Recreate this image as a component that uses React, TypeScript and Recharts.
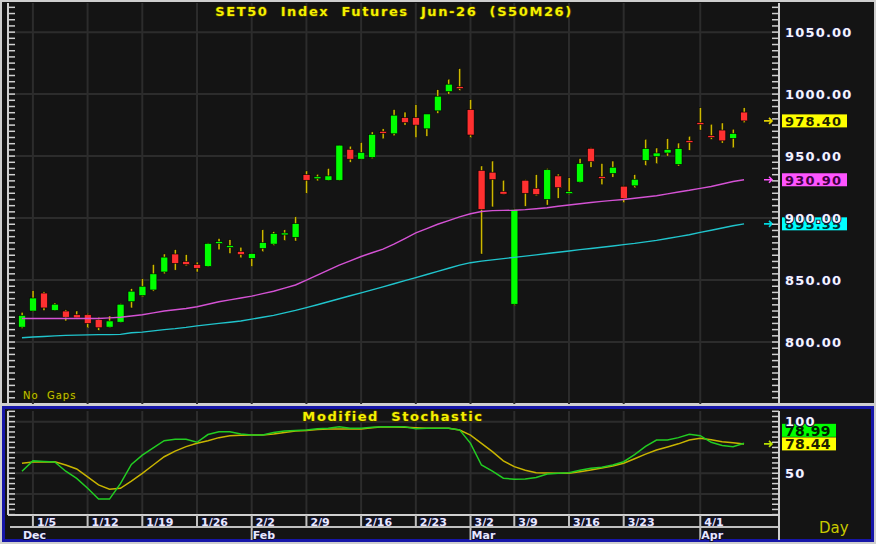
import React from 'react';
import { ComposedChart, Bar, Line, XAxis, YAxis, ReferenceLine, CartesianGrid } from 'recharts';

const dates = ['12/30','1/5','1/6','1/7','1/8','1/9','1/12','1/13','1/14','1/15','1/16','1/19','1/20','1/21','1/22','1/23','1/26','1/27','1/28','1/29','1/30','2/2','2/3','2/4','2/5','2/6','2/9','2/10','2/11','2/12','2/13','2/16','2/17','2/18','2/19','2/20','2/23','2/24','2/25','2/26','2/27','3/2','3/4','3/5','3/6','3/9','3/10','3/11','3/12','3/13','3/16','3/17','3/18','3/19','3/20','3/23','3/24','3/25','3/26','3/27','3/30','3/31','4/1','4/2','4/3','4/7','4/8'];

const opens = [812,825,839.5,825.5,825,822,822,818,812,816,832.5,837.5,842,856.5,871,865,862.5,861,880.2,877,873,867.5,875.5,879,887,884.5,935,932.5,930.5,930.5,955.5,947.5,949,970,968,981,981,972,986.5,1002,1006,987.5,938.5,937,921.5,830.5,930.5,924,915,934,920.5,929,956.3,933.5,936,925.7,926,946.5,949.5,952.5,943.3,962.5,977,966.5,971,964.3,985.5];
const highs = [824,841.5,840.5,831.5,826,825,823,820,821,831,843,851,862.5,871,874.5,870.5,864.5,880,883.5,882.5,876.5,871.8,890.5,889,890.5,901,938,935.3,940,959,958,961,969.5,972,987.5,985.5,991.5,984,1003.5,1012,1020.5,995.5,942,946,930.5,907.5,931,935,940,935.5,932.5,948,956.8,944,946,926.2,935,963.5,956.5,964,960.5,966,989,975.7,976.7,971.7,989];
const lows = [811,824.5,825.5,825,817,818.5,811.5,809.5,811.5,815.5,827.5,836.5,841,855,858,861.5,856.5,860.5,874.5,871.5,868,861,873,878,882,881.5,920,930,930,930,945,947,948,964,966.5,975,965,966,984.5,1000,1003,965,871,909,919,829.5,909.5,918,910.5,916,919,928.5,941,927,933,912.5,924.5,942.5,944,950,942,954.7,971,963.5,960.5,956.7,977];
const closes = [821.5,835.5,827.5,830.5,820,819.5,815,811.5,817,830.5,841,845,855,868.5,863.5,862.5,859.5,879.5,881,877.8,870.5,871.3,880.2,887.5,888,895.5,930.5,933.3,934,958.8,947.5,953,967.5,968.5,983,977,975,984,998.3,1008,1004.5,967,907,931,919.3,907,920,919,939,924.5,921.3,944,945.5,932.5,941,915.7,931.3,956,952.5,955.3,956,961.6,976.3,965.7,962.3,968.2,978.4];

const maFast = [819,819,819,819,819,819,819,819,819.5,820,821,822,823.5,825,826,827,828.5,830.5,832.5,834,835.5,837,839,841,843.5,846,850,854,858,862,865.5,869,872,875,879,883.5,888,891.5,895,898,901,903.5,905.3,906,906.2,906.3,906.8,907.5,908.3,909.5,910.5,911.5,912.5,913.5,914.3,915,916,917,918,919.5,921,922.4,924,925.5,927.5,929.5,930.9];
const maSlow = [803.5,804,804.5,805,805.4,805.6,805.8,806,806,806.2,807.5,808,809,810,810.8,811.8,813,814,815,816,817,818.5,820,821.5,823.5,825.5,827.8,830.1,832.5,834.9,837.3,839.7,842.1,844.5,847,849.5,852,854.5,857,859.5,862,864,865.3,866.3,867.3,868.3,869.3,870.3,871.4,872.4,873.4,874.5,875.5,876.5,877.5,878.6,879.6,880.8,882,883.5,885,886.5,888.5,890.2,892,893.8,895.35];

const stochK = [52,62,61.5,61,52,45,35.5,25,25,40,58.5,67.5,74.5,81.5,83,83,80,87.5,90.3,90.3,88,87,87,89.5,91,91.5,92,93,93.5,95,93.5,93.5,94.5,95,95,95,93,93.5,93.5,93.5,92,79,58,52,45.2,44.2,44.5,46,49.3,50,50.6,53,54.8,55.8,58,61.2,68,76,82.2,82.2,84.5,87.8,86.4,80,77,75.8,78.99];
const stochD = [59.7,61,61,61.2,58,54.2,46.5,38.7,34.5,35.5,42.5,50,58,66,71.5,75.8,79,81.5,84.5,86.4,86.8,87,87,88,89.5,90.9,91.5,92.3,92.9,92.9,92.9,92.9,94,95.1,94.8,94.5,94,93.5,93.5,93.5,91.9,87,79,70.9,62,56.4,53,50.6,50.2,50,50,51.5,53.2,55,57,59.7,64,68.5,72.6,75.5,78.5,82.2,83.8,82.5,80.6,79.5,78.44];

const weekStarts = ['1/5','1/12','1/19','1/26','2/2','2/9','2/16','2/23','3/2','3/9','3/16','3/23','4/1'];
const monthStarts = ['12/30','2/2','3/2','4/1'];
const monthLabels = ['Dec','Feb','Mar','Apr'];
const priceGrid = [800, 850, 900, 950, 1000, 1050];
const stochGrid = [30, 50, 70, 100];
const stochLabels = [50, 100];

const priceTicks = Array.from({ length: 65 }, (_, i) => 750 + i * 5);
const stochTicks = Array.from({ length: 21 }, (_, i) => 10 + i * 5);

const data = dates.map((d, i) => ({
  date: d,
  open: opens[i],
  high: highs[i],
  low: lows[i],
  close: closes[i],
  maFast: maFast[i],
  maSlow: maSlow[i],
  k: stochK[i],
  d: stochD[i],
}));

const last = dates.length - 1;
const FONT = '"DejaVu Sans", Verdana, sans-serif';
const GRID = '#2c2c2c';
const AXIS = '#d0d0d0';

const Candle = (props: any) => {
  const { x, y, width, height, payload } = props;
  const { open, close, high, low } = payload;
  const cx = x + width / 2;
  const ratio = height / (high - low || 1);
  const yOf = (v: number) => y + (high - v) * ratio;
  const top = yOf(Math.max(open, close));
  const bh = Math.max(yOf(Math.min(open, close)) - top, 2);
  const up = close >= open;
  return (
    <g>
      <rect x={cx - 1} y={y} width={2} height={height} fill="#cdb800" stroke="#000" strokeWidth={0.4} />
      <rect x={cx - 3.5} y={top} width={7} height={bh} fill={up ? '#00ff00' : '#ff3030'} stroke="#000" strokeWidth={0.6} />
    </g>
  );
};

const AxisTick = (props: any) => {
  const { x, y, payload, side, labels, fmt } = props;
  const v = payload.value;
  if (side === 'left') {
    return <line x1={x} x2={x + 7} y1={y} y2={y} stroke={AXIS} strokeWidth={1.5} />;
  }
  return (
    <g>
      <line x1={x - 7} x2={x} y1={y} y2={y} stroke={AXIS} strokeWidth={1.5} />
      {labels.includes(v) && (
        <text x={x + 6} y={y} dominantBaseline="central" fill="#f4f4ff" stroke="#141430" strokeWidth={2}
          paintOrder="stroke" fontFamily={FONT} fontWeight="bold" fontSize={13} letterSpacing={1.2}>
          {fmt(v)}
        </text>
      )}
    </g>
  );
};

const ValueTag = (props: any) => {
  const { viewBox, text, bg, fg, arrow, w, dy = 0, fs = 13, ls = 1.2 } = props;
  const x = viewBox.x + viewBox.width;
  const y = viewBox.y + dy;
  return (
    <g>
      {arrow && (
        <path d={`M${x - 15},${y} H${x - 7} M${x - 10},${y - 3} L${x - 7},${y} L${x - 10},${y + 3}`}
          stroke={arrow} strokeWidth={1.6} fill="none" />
      )}
      <rect x={x + 3} y={y - 6.5} width={w} height={13} fill={bg} />
      <text x={x + 6} y={y + 0.5} dominantBaseline="central" fill={fg} fontFamily={FONT} fontWeight="bold"
        fontSize={fs} letterSpacing={ls}>
        {text}
      </text>
    </g>
  );
};

const DateTick = (props: any) => {
  const { x, y, payload } = props;
  const d = payload.value;
  const isWeek = weekStarts.includes(d);
  const m = monthStarts.indexOf(d);
  const txt = { fill: '#e8e8ff', stroke: '#101030', strokeWidth: 2, paintOrder: 'stroke' as const, fontFamily: FONT, fontWeight: 'bold' as const };
  return (
    <g>
      {isWeek && <line x1={x} x2={x} y1={y} y2={y + 12} stroke="#c0c0c0" strokeWidth={2} />}
      {isWeek && <text x={x + 4} y={y + 11} fontSize={11} {...txt}>{d}</text>}
      {m > 0 && <line x1={x} x2={x} y1={y + 12} y2={y + 25} stroke="#c0c0c0" strokeWidth={2} />}
      {m >= 0 && <text x={x + 1} y={y + 23.5} fontSize={11} {...txt}>{monthLabels[m]}</text>}
    </g>
  );
};

const outline = (c: string) => `1px 0 0 ${c}, -1px 0 0 ${c}, 0 1px 0 ${c}, 0 -1px 0 ${c}`;

const App = () => {
  const xPad = { left: 8.5, right: 29.5 };
  return (
    <div style={{ position: 'absolute', left: 0, top: 0, width: 876, height: 544, background: '#cfcfcf', overflow: 'hidden' }}>
      <div style={{ position: 'absolute', left: 2, top: 2, width: 872, height: 401, background: '#141414' }} />
      <div style={{ position: 'absolute', left: 2, top: 406, width: 872, height: 136, background: '#141414', border: '3px solid #1616a8', boxSizing: 'border-box' }} />

      <div style={{ position: 'absolute', left: 0, top: 0 }}>
        <ComposedChart width={876} height={404} data={data} margin={{ top: 3, right: 7, bottom: 0, left: 7 }}>
          <XAxis dataKey="date" hide scale="band" padding={xPad} />
          <YAxis yAxisId="pl" orientation="left" width={1} domain={[750, 1073.5]} allowDataOverflow ticks={priceTicks}
            interval={0} tickSize={0} tickMargin={0} tickLine={false} axisLine={{ stroke: AXIS, strokeWidth: 2 }}
            tick={<AxisTick side="left" />} />
          <YAxis yAxisId="p" orientation="right" width={90} domain={[750, 1073.5]} allowDataOverflow ticks={priceTicks}
            interval={0} tickSize={0} tickMargin={0} tickLine={false} axisLine={{ stroke: AXIS, strokeWidth: 2 }}
            tick={<AxisTick side="right" labels={priceGrid} fmt={(v: number) => v.toFixed(2)} />} />
          <CartesianGrid yAxisId="p" horizontalValues={priceGrid} verticalValues={weekStarts} stroke={GRID} strokeWidth={2} />
          <Line yAxisId="p" dataKey="maSlow" stroke="#20c4cc" strokeWidth={1.4} dot={false} isAnimationActive={false} />
          <Line yAxisId="p" dataKey="maFast" stroke="#d452d4" strokeWidth={1.4} dot={false} isAnimationActive={false} />
          <Bar yAxisId="p" dataKey={(r: any) => [r.low, r.high]} shape={<Candle />} isAnimationActive={false} />
          <ReferenceLine yAxisId="p" y={closes[last]} stroke="none"
            label={<ValueTag text={closes[last].toFixed(2)} bg="#ffff00" fg="#202000" arrow="#e0d000" w={65} />} />
          <ReferenceLine yAxisId="p" y={maFast[last]} stroke="none"
            label={<ValueTag text={maFast[last].toFixed(2)} bg="#ff55ff" fg="#400040" arrow="#ff55ff" w={65} />} />
          <ReferenceLine yAxisId="p" y={maSlow[last]} stroke="none"
            label={<ValueTag text={maSlow[last].toFixed(2)} bg="#00ffff" fg="#003030" arrow="#00d8e0" w={65} />} />
        </ComposedChart>
      </div>

      <div style={{ position: 'absolute', left: 0, top: 406 }}>
        <ComposedChart width={876} height={138} data={data} margin={{ top: 5, right: 7, bottom: 0, left: 7 }}>
          <XAxis dataKey="date" scale="band" padding={xPad} height={29} interval={0}
            ticks={[monthStarts[0], ...weekStarts]} tickSize={0} tickMargin={0} tickLine={false}
            axisLine={{ stroke: AXIS, strokeWidth: 2 }} tick={<DateTick />} />
          <YAxis yAxisId="sl" orientation="left" width={1} domain={[9.6, 110.3]} allowDataOverflow ticks={stochTicks}
            interval={0} tickSize={0} tickMargin={0} tickLine={false} axisLine={{ stroke: AXIS, strokeWidth: 2 }}
            tick={<AxisTick side="left" />} />
          <YAxis yAxisId="s" orientation="right" width={90} domain={[9.6, 110.3]} allowDataOverflow ticks={stochTicks}
            interval={0} tickSize={0} tickMargin={0} tickLine={false} axisLine={{ stroke: AXIS, strokeWidth: 2 }}
            tick={<AxisTick side="right" labels={stochLabels} fmt={(v: number) => String(v)} />} />
          <CartesianGrid yAxisId="s" horizontalValues={stochGrid} verticalValues={weekStarts} stroke={GRID} strokeWidth={2} />
          <Line yAxisId="s" dataKey="d" stroke="#c8b400" strokeWidth={1.5} dot={false} isAnimationActive={false} />
          <Line yAxisId="s" dataKey="k" stroke="#22cc22" strokeWidth={1.5} dot={false} isAnimationActive={false} />
          <ReferenceLine yAxisId="s" y={stochD[last]} stroke="none"
            label={<ValueTag text={stochD[last].toFixed(2)} bg="#ffff00" fg="#202000" arrow="#b8e000" w={54} fs={14} ls={0.3} />} />
          <ReferenceLine yAxisId="s" y={stochK[last]} stroke="none"
            label={<ValueTag text={stochK[last].toFixed(2)} bg="#00ff00" fg="#002000" w={54} dy={-13} fs={14} ls={0.3} />} />
        </ComposedChart>
      </div>

      <div style={{ position: 'absolute', left: 10, top: 526, width: 769, height: 2, background: '#c0c0c0' }} />
      <div style={{ position: 'absolute', left: 778, top: 515, width: 2, height: 25, background: AXIS }} />

      <div style={{ position: 'absolute', left: 0, top: 4, width: 788, textAlign: 'center', whiteSpace: 'pre', fontFamily: FONT, fontWeight: 'bold', fontSize: 13, letterSpacing: 1.6, lineHeight: '16px', color: '#f4f000', textShadow: outline('#3a3000') }}>
        {'SET50  Index  Futures  Jun-26  (S50M26)'}
      </div>
      <div style={{ position: 'absolute', left: 0, top: 409, width: 786, textAlign: 'center', whiteSpace: 'pre', fontFamily: FONT, fontWeight: 'bold', fontSize: 13, letterSpacing: 1.6, lineHeight: '16px', color: '#f4f000', textShadow: outline('#3a3000') }}>
        {'Modified  Stochastic'}
      </div>
      <div style={{ position: 'absolute', left: 23, top: 390, whiteSpace: 'pre', fontFamily: FONT, fontSize: 10, letterSpacing: 1, lineHeight: '12px', color: '#c4c400', textShadow: outline('#202000') }}>
        {'No  Gaps'}
      </div>
      <div style={{ position: 'absolute', left: 819, top: 519, fontFamily: FONT, fontSize: 15, lineHeight: '18px', color: '#c8c800' }}>
        Day
      </div>
    </div>
  );
};

export default App;
